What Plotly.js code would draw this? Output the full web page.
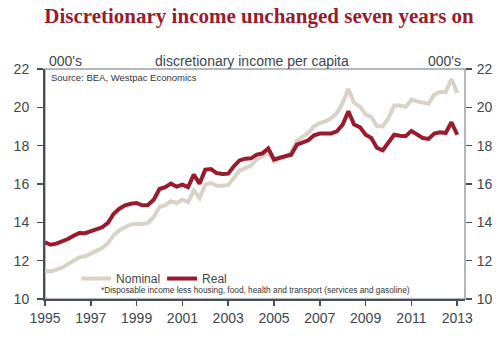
<!DOCTYPE html>
<html>
<head>
<meta charset="utf-8">
<script src="https://cdn.plot.ly/plotly-3.0.1.min.js"></script>
<style>html,body{margin:0;padding:0;background:#fff;}#chart{width:503px;height:339px;}</style>
</head>
<body>
<div id="chart"></div>
<script>
// Quarterly data, 1995 Q1 .. 2013 Q1, thousands of dollars per capita
const firstYear = 1995;
const quarterMonths = ['01', '04', '07', '10'];
const nominal = [
  11.48, 11.44, 11.53, 11.63,
  11.81, 12.00, 12.17, 12.23,
  12.37, 12.50, 12.66, 12.92,
  13.32, 13.58, 13.76, 13.88,
  13.93, 13.91, 13.97, 14.28,
  14.80, 14.90, 15.10, 15.01,
  15.18, 15.04, 15.67, 15.27,
  15.97, 16.05, 15.91, 15.91,
  15.95, 16.31, 16.70, 16.83,
  16.97, 17.27, 17.44, 17.65,
  17.18, 17.34, 17.44, 17.65,
  18.26, 18.45, 18.66, 19.01,
  19.18, 19.27, 19.43, 19.70,
  20.23, 20.96, 20.23, 20.05,
  19.62, 19.50, 19.01, 19.01,
  19.44, 20.09, 20.09, 20.02,
  20.40, 20.31, 20.23, 20.19,
  20.66, 20.80, 20.80, 21.48,
  20.75
];
const real = [
  12.96, 12.83, 12.89, 13.00,
  13.13, 13.30, 13.44, 13.43,
  13.53, 13.62, 13.74, 13.97,
  14.45, 14.71, 14.89, 14.97,
  15.01, 14.89, 14.90, 15.18,
  15.74, 15.83, 16.02, 15.86,
  15.97, 15.84, 16.49, 16.02,
  16.75, 16.78, 16.57, 16.52,
  16.54, 16.92, 17.23, 17.32,
  17.34, 17.53, 17.60, 17.86,
  17.27, 17.37, 17.44, 17.53,
  18.05, 18.19, 18.28, 18.54,
  18.63, 18.63, 18.64, 18.75,
  19.10, 19.79, 19.10, 18.97,
  18.57, 18.40, 17.88, 17.76,
  18.14, 18.57, 18.52, 18.49,
  18.77, 18.56, 18.40, 18.35,
  18.63, 18.70, 18.66, 19.22,
  18.57
];
const seriesNames = ['Nominal', 'Real'];
const yTickVals = [10, 12, 14, 16, 18, 20, 22];
const xTickYears = ['1995','1997','1999','2001','2003','2005','2007','2009','2011','2013'];

const dates = nominal.map((_, i) => (firstYear + Math.floor(i / 4)) + '-' + quarterMonths[i % 4] + '-01');

const axisColor = '#46505b';
const textColor = '#3d4651';
const fontFam = 'Liberation Sans, Arial, sans-serif';

const traces = [
  {x: dates, y: nominal, name: seriesNames[0], type: 'scatter', mode: 'lines',
   line: {color: '#d9d3c7', width: 4}, hoverinfo: 'skip'},
  {x: dates, y: real, name: seriesNames[1], type: 'scatter', mode: 'lines',
   line: {color: '#9b1b2e', width: 4}, hoverinfo: 'skip'},
  {x: dates, y: real, yaxis: 'y2', type: 'scatter', mode: 'lines',
   line: {color: 'rgba(0,0,0,0)', width: 0}, showlegend: false, hoverinfo: 'skip'}
];

const layout = {
  width: 503, height: 339,
  margin: {l: 45, r: 38, t: 69, b: 40},
  paper_bgcolor: '#ffffff', plot_bgcolor: '#ffffff',
  font: {family: fontFam, color: textColor, size: 14},
  title: {
    text: '<b>Discretionary income unchanged seven years on</b>',
    font: {family: 'Liberation Serif, Times New Roman, serif', size: 21, color: '#9b1b2e'},
    x: 0.515, xref: 'container', xanchor: 'center',
    y: 0.953, yref: 'container', yanchor: 'middle'
  },
  showlegend: true,
  legend: {
    orientation: 'h', x: 0.074, xanchor: 'left', y: 0.152, yanchor: 'top',
    font: {size: 12, color: textColor, family: fontFam},
    bgcolor: 'rgba(0,0,0,0)', borderwidth: 0, entrywidth: 41, itemwidth: 30
  },
  xaxis: {
    type: 'date',
    range: ['1995-01-01', '2013-05-05'],
    tickvals: xTickYears.map(y => y + '-01-01'),
    ticktext: xTickYears,
    ticks: 'outside', ticklen: 5, tickwidth: 1.5, tickcolor: axisColor,
    showline: true, linecolor: axisColor, linewidth: 2,
    showgrid: false, zeroline: false, fixedrange: true,
    tickfont: {size: 14, color: textColor}, ticklabelstandoff: 0
  },
  yaxis: {
    range: [10, 22], tickvals: yTickVals,
    ticks: 'outside', ticklen: 6, tickwidth: 1.5, tickcolor: axisColor,
    showline: true, linecolor: axisColor, linewidth: 2,
    showgrid: false, zeroline: false, fixedrange: true,
    tickfont: {size: 14, color: textColor}, ticklabelstandoff: 5
  },
  yaxis2: {
    overlaying: 'y', side: 'right', range: [10, 22], tickvals: yTickVals,
    ticks: 'outside', ticklen: 6, tickwidth: 1.5, tickcolor: axisColor,
    showline: false, showgrid: false, zeroline: false, fixedrange: true,
    tickfont: {size: 14, color: textColor}, ticklabelstandoff: 2
  },
  shapes: [
    {type: 'rect', xref: 'paper', yref: 'paper', x0: 0, x1: 1, y0: 0, y1: 1,
     line: {color: '#9aa1a8', width: 1.5}, layer: 'below'}
  ],
  annotations: [
    {text: "000's", xref: 'paper', yref: 'paper', x: 0.005, y: 1.035, xanchor: 'left', yanchor: 'middle',
     showarrow: false, font: {size: 14, color: textColor}},
    {text: "000's", xref: 'paper', yref: 'paper', x: 0.995, y: 1.035, xanchor: 'right', yanchor: 'middle',
     showarrow: false, font: {size: 14, color: textColor}},
    {text: 'discretionary income per capita', xref: 'paper', yref: 'paper', x: 0.494, y: 1.035,
     xanchor: 'center', yanchor: 'middle', showarrow: false, font: {size: 14, color: textColor}},
    {text: 'Source: BEA, Westpac Economics', xref: 'paper', yref: 'paper', x: 0.01, y: 0.965,
     xanchor: 'left', yanchor: 'middle', showarrow: false, font: {size: 9.5, color: '#333'}},
    {text: '*Disposable income less housing, food, health and transport (services and gasoline)',
     xref: 'paper', yref: 'paper', x: 0.502, y: 0.039, xanchor: 'center', yanchor: 'middle',
     showarrow: false, font: {size: 8.3, color: '#333'}}
  ]
};

Plotly.newPlot('chart', traces, layout, {staticPlot: true, displayModeBar: false});
</script>
</body>
</html>
